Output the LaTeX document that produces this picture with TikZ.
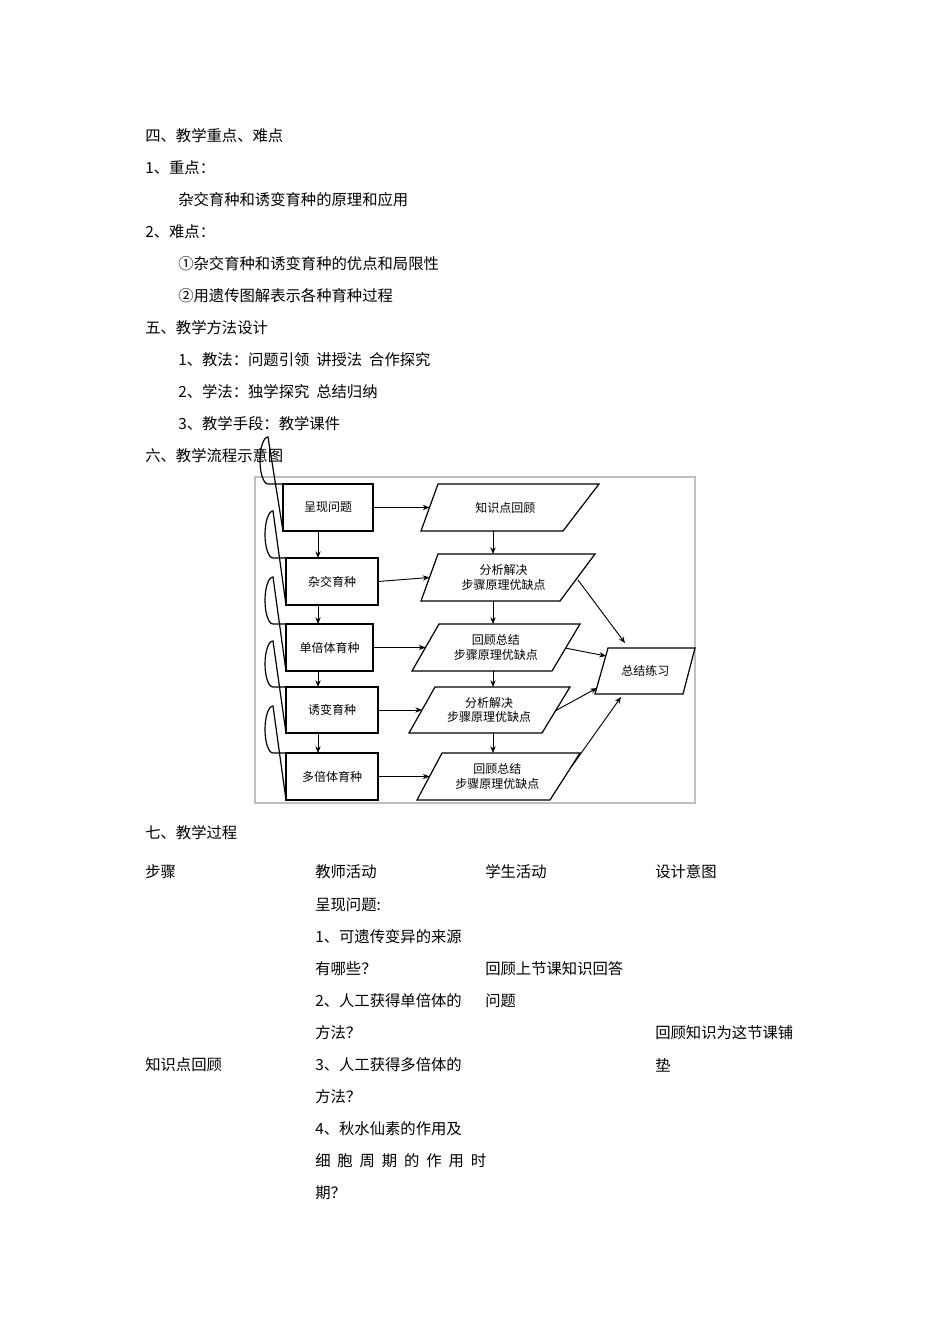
\documentclass[tikz,border=0pt]{standalone}
\usepackage{fontspec}
\setmainfont{Noto Sans CJK SC}
\newfontfamily\cjk{Noto Sans CJK SC}
\usetikzlibrary{arrows.meta}
\begin{document}
\begin{tikzpicture}[x=0.75pt,y=-0.75pt,
  txt/.style={anchor=west,inner sep=0,font=\fontsize{11.5pt}{13pt}\selectfont},
  fc/.style={align=center,inner sep=0,font=\fontsize{9pt}{11pt}\selectfont},
  box/.style={draw,line width=0.9pt},
  arr/.style={-{Stealth[length=5pt,width=4pt]},line width=0.7pt}]
\useasboundingbox[fill=white] (0,0) rectangle (950,1344);
% body text
\foreach \x/\y/\t in {145/136/四、教学重点、难点, 145/168/1、重点：, 178/200/杂交育种和诱变育种的原理和应用, 145/232/2、难点：, 178/264/①杂交育种和诱变育种的优点和局限性, 178/296/②用遗传图解表示各种育种过程, 145/328/五、教学方法设计, 178/360/1、教法：问题引领\ \ 讲授法\ \ 合作探究, 178/392/2、学法：独学探究\ \ 总结归纳, 178/424/3、教学手段：教学课件, 145/456/六、教学流程示意图, 145/833/七、教学过程,
 145/872/步骤, 315/872/教师活动, 485/872/学生活动, 655/872/设计意图,
 315/905/呈现问题:, 315/937/1、可遗传变异的来源, 315/969/有哪些？, 315/1001/2、人工获得单倍体的, 315/1033/方法？, 315/1065/3、人工获得多倍体的, 315/1097/方法？, 315/1129/4、秋水仙素的作用及, 315/1193/期？,
 485/969/回顾上节课知识回答, 485/1001/问题, 655/1033/回顾知识为这节课铺, 655/1065/垫, 145/1065/知识点回顾}
  \node[txt] at (\x,\y) {\t};
\node[txt] at (315,1161) {细\hspace{0.45em}胞\hspace{0.45em}周\hspace{0.45em}期\hspace{0.45em}的\hspace{0.45em}作\hspace{0.45em}用\hspace{0.45em}时};
% frame
\draw[gray!50,line width=0.8pt] (255,477) rectangle (695,803);
% left boxes
\foreach \n/\a/\b/\c/\d/\e/\t in {b1/260/283/373/484/531/呈现问题, b2/265/286/378/558/605/杂交育种, b3/265/286/373/624/671/单倍体育种, b4/265/286/378/687/733/诱变育种, b5/265/286/378/753/800/多倍体育种}{
  \draw[box] (\b,\d) -- (\c,\d) -- (\c,\e) -- (\b,\e) -- cycle;
  \draw[box] (\b,\d) -- (\a+8,\d) arc[start angle=90,end angle=270,x radius=8,y radius=-11.75*0+(\e-\d)/2] -- (\b,\e);
  \node[fc] (\n) at ({(\b+\c)/2},{(\d+\e)/2}) {\t};
  \coordinate (\n r) at (\c,{(\d+\e)/2});
  \coordinate (\n t) at (318,\d);
  \coordinate (\n b) at (318,\e);
}
% parallelograms
\foreach \n/\tl/\tr/\bl/\br/\d/\e/\t in {p1/438/599/421/563/484/531/知识点回顾, p2/438/595/421/560/554/601/分析解决\\步骤原理优缺点, p3/439/580/412/552/624/671/回顾总结\\步骤原理优缺点, p4/435/570/409/542/687/733/分析解决\\步骤原理优缺点, p5/442/580/417/550/753/800/回顾总结\\步骤原理优缺点, p6/608/695/595/683/648/694/总结练习}{
  \draw[box] (\tl,\d) -- (\tr,\d) -- (\br,\e) -- (\bl,\e) -- cycle;
  \node[fc] (\n) at ({(\tl+\tr+\bl+\br)/4},{(\d+\e)/2}) {\t};
  \coordinate (\n l) at ({(\tl+\bl)/2},{(\d+\e)/2});
  \coordinate (\n t) at (493,\d);
  \coordinate (\n b) at (493,\e);
}
\draw[arr] (b1r) -- (p1l);
\draw[arr] (b2r) -- (p2l);
\draw[arr] (b3r) -- (p3l);
\draw[arr] (b4r) -- (p4l);
\draw[arr] (b5r) -- (p5l);
\draw[arr] (b1b) -- (b2t);
\draw[arr] (b2b) -- (b3t);
\draw[arr] (b3b) -- (b4t);
\draw[arr] (b4b) -- (b5t);
\draw[arr] (p1b) -- (p2t);
\draw[arr] (p2b) -- (p3t);
\draw[arr] (p3b) -- (p4t);
\draw[arr] (p4b) -- (p5t);
\coordinate (s2) at (578,580); \coordinate (e2) at (625,643);
\coordinate (s3) at (565,648); \coordinate (e3) at (606,656);
\coordinate (s4) at (555,711); \coordinate (e4) at (597,688);
\coordinate (s5) at (572,766); \coordinate (e5) at (621,697);
\draw[arr] (s2) -- (e2);
\draw[arr] (s3) -- (e3);
\draw[arr] (s4) -- (e4);
\draw[arr] (s5) -- (e5);
\end{tikzpicture}
\end{document}
